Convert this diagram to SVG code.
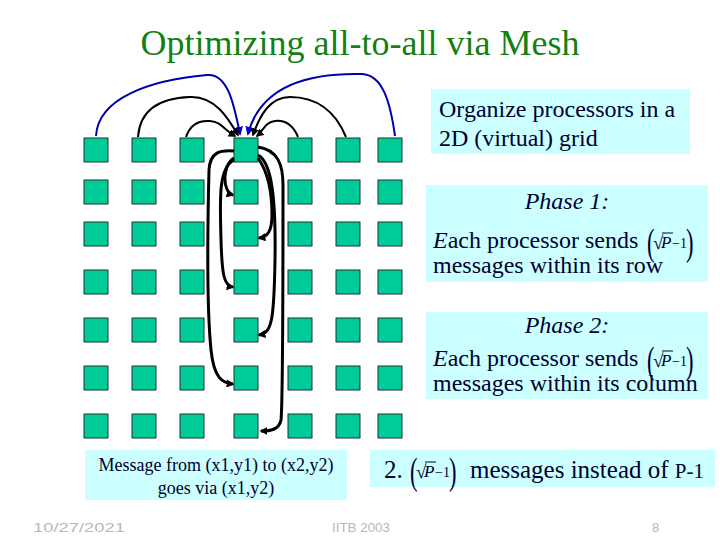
<svg xmlns="http://www.w3.org/2000/svg" width="720" height="540" viewBox="0 0 720 540">
<style>
.node{fill:#00CC99;stroke:#1a3333;stroke-width:1}
.box{fill:#CCFFFF}
.t{font-family:"Liberation Serif",Tinos,"Times New Roman","DejaVu Serif",serif;fill:#000033}
.ft{font-family:"Liberation Sans Narrow","Liberation Sans",sans-serif;fill:#b8b8b8;font-size:13px}
.blk{fill:none;stroke:#000;stroke-width:2}
.blkv{fill:none;stroke:#000;stroke-width:3}
.blu{fill:none;stroke:#0000aa;stroke-width:2}
</style>
<defs>
<marker id="ab" viewBox="0 0 10 10" refX="8" refY="5" markerWidth="8" markerHeight="8" markerUnits="userSpaceOnUse" orient="auto"><path d="M0,0 L10,5 L0,10 z" fill="#000"/></marker>
<marker id="abu" viewBox="0 0 10 10" refX="8" refY="5" markerWidth="9" markerHeight="9" markerUnits="userSpaceOnUse" orient="auto"><path d="M0,0 L10,5 L0,10 z" fill="#0000cc"/></marker>
<g id="formula">
<text class="t" transform="translate(0,7) scale(0.75,1.25)" font-size="30">(</text>
<text class="t" x="6" y="1" font-size="19">√</text>
<line x1="15" y1="-15" x2="26" y2="-15" stroke="#000033" stroke-width="1"/>
<text class="t" x="14" y="0" font-size="17" font-style="italic">P</text>
<text class="t" x="25" y="0" font-size="14">−1</text>
<text class="t" transform="translate(39,7) scale(0.75,1.25)" font-size="30">)</text>
</g>
</defs>
<rect width="720" height="540" fill="#fff"/>
<text class="t" x="360" y="55" text-anchor="middle" font-size="36" style="fill:#138013">Optimizing all-to-all via Mesh</text>

<g id="info">
<rect class="box" x="431" y="89" width="259" height="65"/>
<text class="t" x="439" y="117" font-size="24">Organize processors in a</text>
<text class="t" x="439" y="146" font-size="24">2D (virtual) grid</text>
</g>
<g id="phase1">
<rect class="box" x="426" y="185" width="282" height="97"/>
<text class="t" x="567" y="209" font-size="24" font-style="italic" text-anchor="middle">Phase 1:</text>
<text class="t" x="433" y="248" font-size="24"><tspan font-style="italic">E</tspan>ach processor sends</text>
<use href="#formula" x="647" y="248"/>
<text class="t" x="433" y="273" font-size="24">messages within its row</text>
</g>
<g id="phase2">
<rect class="box" x="426" y="312" width="282" height="87"/>
<text class="t" x="567" y="333" font-size="24" font-style="italic" text-anchor="middle">Phase 2:</text>
<text class="t" x="433" y="366" font-size="24"><tspan font-style="italic">E</tspan>ach processor sends</text>
<use href="#formula" x="647" y="366"/>
<text class="t" x="433" y="391" font-size="24">messages within its column</text>
</g>
<g id="message">
<rect class="box" x="85" y="450" width="262" height="50"/>
<text class="t" x="216" y="471" font-size="18" text-anchor="middle">Message from (x1,y1) to (x2,y2)</text>
<text class="t" x="216" y="494" font-size="18" text-anchor="middle">goes via (x1,y2)</text>
</g>
<g id="result">
<rect class="box" x="370" y="450" width="345" height="37"/>
<text class="t" x="384" y="478" font-size="25">2.</text>
<use href="#formula" x="410" y="477"/>
<text class="t" x="470" y="478" font-size="25">messages instead of <tspan font-size="21">P-1</tspan></text>
</g>

<g id="grid">
<g id="r1"><rect class="node" x="84" y="138" width="24" height="24"/><rect class="node" x="132" y="138" width="24" height="24"/><rect class="node" x="180" y="138" width="24" height="24"/><rect id="center" class="node" x="234" y="138" width="24" height="24"/><rect class="node" x="288" y="138" width="24" height="24"/><rect class="node" x="336" y="138" width="24" height="24"/><rect class="node" x="378" y="138" width="24" height="24"/></g>
<g id="r2"><rect class="node" x="84" y="180" width="24" height="24"/><rect class="node" x="132" y="180" width="24" height="24"/><rect class="node" x="180" y="180" width="24" height="24"/><rect class="node" x="234" y="180" width="24" height="24"/><rect class="node" x="288" y="180" width="24" height="24"/><rect class="node" x="336" y="180" width="24" height="24"/><rect class="node" x="378" y="180" width="24" height="24"/></g>
<g id="r3"><rect class="node" x="84" y="222" width="24" height="24"/><rect class="node" x="132" y="222" width="24" height="24"/><rect class="node" x="180" y="222" width="24" height="24"/><rect class="node" x="234" y="222" width="24" height="24"/><rect class="node" x="288" y="222" width="24" height="24"/><rect class="node" x="336" y="222" width="24" height="24"/><rect class="node" x="378" y="222" width="24" height="24"/></g>
<g id="r4"><rect class="node" x="84" y="270" width="24" height="24"/><rect class="node" x="132" y="270" width="24" height="24"/><rect class="node" x="180" y="270" width="24" height="24"/><rect class="node" x="234" y="270" width="24" height="24"/><rect class="node" x="288" y="270" width="24" height="24"/><rect class="node" x="336" y="270" width="24" height="24"/><rect class="node" x="378" y="270" width="24" height="24"/></g>
<g id="r5"><rect class="node" x="84" y="318" width="24" height="24"/><rect class="node" x="132" y="318" width="24" height="24"/><rect class="node" x="180" y="318" width="24" height="24"/><rect class="node" x="234" y="318" width="24" height="24"/><rect class="node" x="288" y="318" width="24" height="24"/><rect class="node" x="336" y="318" width="24" height="24"/><rect class="node" x="378" y="318" width="24" height="24"/></g>
<g id="r6"><rect class="node" x="84" y="366" width="24" height="24"/><rect class="node" x="132" y="366" width="24" height="24"/><rect class="node" x="180" y="366" width="24" height="24"/><rect class="node" x="234" y="366" width="24" height="24"/><rect class="node" x="288" y="366" width="24" height="24"/><rect class="node" x="336" y="366" width="24" height="24"/><rect class="node" x="378" y="366" width="24" height="24"/></g>
<g id="r7"><rect class="node" x="84" y="414" width="24" height="24"/><rect class="node" x="132" y="414" width="24" height="24"/><rect class="node" x="180" y="414" width="24" height="24"/><rect class="node" x="234" y="414" width="24" height="24"/><rect class="node" x="288" y="414" width="24" height="24"/><rect class="node" x="336" y="414" width="24" height="24"/><rect class="node" x="378" y="414" width="24" height="24"/></g>
</g>

<g id="connectors">
<path class="blu" marker-end="url(#abu)" d="M96,136 C98,98 150,80 207,75 C228,73 234,105 240,134"/>
<path class="blu" marker-end="url(#abu)" d="M395,136 C390,100 382,75 362,74 C320,73 262,80 248,134"/>
<path class="blk" marker-end="url(#ab)" d="M138,137 C140,110 160,98 190,97 C215,96 228,118 238,135"/>
<path class="blk" marker-end="url(#ab)" d="M186,137 C190,125 198,120 210,121 C222,122 224,130 235,136"/>
<path class="blk" marker-end="url(#ab)" d="M298,137 C293,125 285,120 275,121 C265,122 264,130 257,136"/>
<path class="blk" marker-end="url(#ab)" d="M346,137 C335,110 315,97 290,97 C270,97 260,115 253,135"/>
<path class="blkv" marker-end="url(#ab)" d="M234,158 C222,165 222,192 233,195"/>
<path class="blkv" marker-end="url(#ab)" d="M234,160 C218,168 220,200 221,240 C222,275 224,286 233,287"/>
<path class="blkv" marker-end="url(#ab)" d="M234,151 C220,150 210,152 209,170 C207,250 208,320 211,350 C214,378 222,383 233,384"/>
<path class="blkv" marker-end="url(#ab)" d="M258,158 C270,175 272,200 272,215 C272,232 267,237 259,238"/>
<path class="blkv" marker-end="url(#ab)" d="M258,155 C272,162 276,200 275,260 C274,320 272,333 259,335"/>
<path class="blkv" marker-end="url(#ab)" d="M258,147 C278,150 283,165 283,185 C283,300 283,400 281,420 C279,430 270,431 261,431"/>
</g>

<g id="footer">
<text class="ft" x="33" y="532" textLength="92" lengthAdjust="spacingAndGlyphs">10/27/2021</text>
<text class="ft" x="332" y="532" textLength="58" lengthAdjust="spacingAndGlyphs">IITB 2003</text>
<text class="ft" x="652" y="532">8</text>
</g>
</svg>
